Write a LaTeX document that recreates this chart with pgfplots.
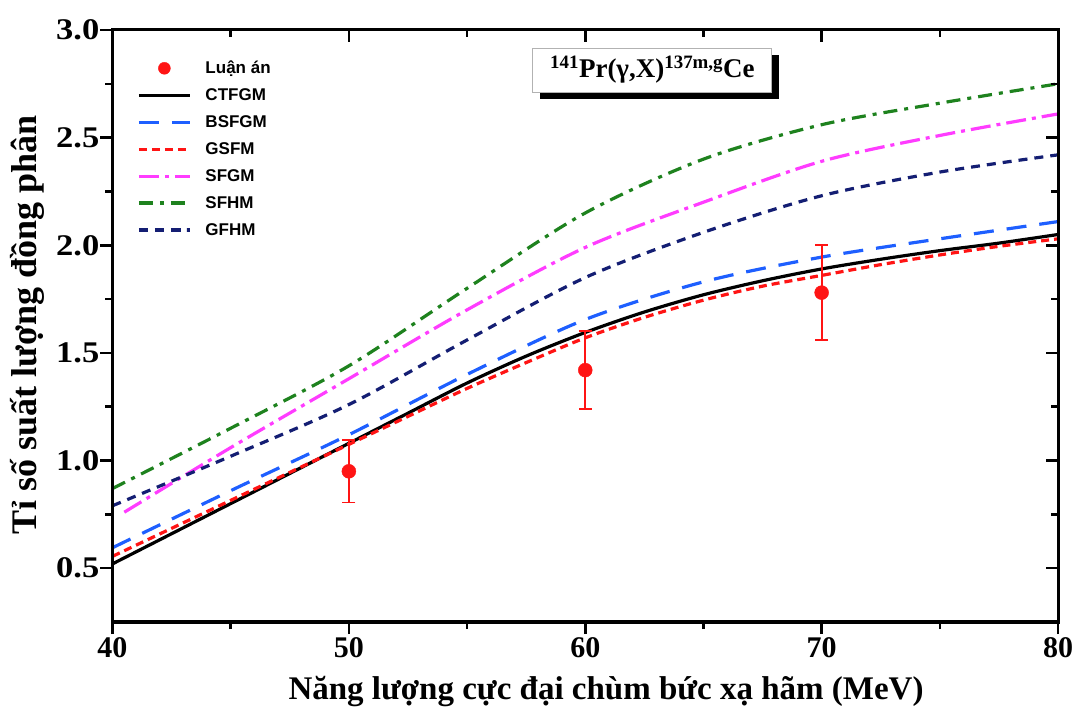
\documentclass[border=0pt]{standalone}
\usepackage{fontspec}
\setmainfont{Liberation Serif}
\newfontfamily\legfont{Liberation Sans}
\usepackage{graphicx}
\usepackage{pgfplots}
\pgfplotsset{compat=1.18}
\usetikzlibrary{shadows}
\definecolor{cblue}{RGB}{30,95,255}
\definecolor{cred}{RGB}{255,20,20}
\definecolor{cmag}{RGB}{255,60,255}
\definecolor{cgreen}{RGB}{30,130,30}
\definecolor{cnavy}{RGB}{20,30,115}
\begin{document}
\begin{tikzpicture}
\pgfplotsset{
  base/.style={
    width=945.5pt, height=592pt, scale only axis,
    xmin=40, xmax=80, ymin=0.25, ymax=3.0,
    xtick={40,50,60,70,80}, ytick={0.5,1,1.5,2,2.5,3},
    minor x tick num=1, minor y tick num=1,
    major tick length=12pt, minor tick length=7pt,
    axis line style={line width=3pt},
    every tick/.style={line width=2.5pt, black},
  }
}
\begin{axis}[base, name=ax,
  xtick pos=left, ytick pos=left, tick align=outside,
  /pgf/number format/assume math mode=true,
  yticklabel={\scalebox{1.15}[1]{\pgfmathprintnumber[fixed, fixed zerofill, precision=1]{\tick}}},
  yticklabel style={font=\fontsize{30}{30}\selectfont\bfseries, inner sep=1pt},
  xticklabel style={font=\fontsize{30}{30}\selectfont\bfseries, inner sep=3pt},
  xlabel={Năng lượng cực đại chùm bức xạ hãm (MeV)},
  ylabel={Tỉ số suất lượng đồng phân},
  xlabel style={font=\fontsize{33}{33}\selectfont\bfseries, at={(axis description cs:0.522,-0.118)}, anchor=center},
  ylabel style={font=\fontsize{36}{36}\selectfont\bfseries, at={(axis description cs:-0.0904,0.502)}, anchor=center},
  legend style={at={(rel axis cs:0.026,0.951)}, anchor=north west, draw=none, fill=none,
    font=\legfont\fontsize{17}{17}\selectfont\bfseries, row sep=9.5pt, inner sep=0pt,
    /tikz/every odd column/.append style={column sep=12pt}},
  legend cell align=left,
  legend image code/.code={\draw[mark repeat=2,mark phase=2,#1] plot coordinates {(0pt,0pt)(25.5pt,0pt)(51pt,0pt)};},
]
\addlegendimage{only marks, mark=*, cred, mark size=6pt}
\addlegendentry{Luận án}
\addplot[black, line width=3.2pt, smooth] coordinates {
(40,0.52)(42.5,0.66)(45,0.80)(47.5,0.94)(50,1.08)(52.5,1.22)(55,1.36)(57.5,1.485)(60,1.595)(62.5,1.69)(65,1.77)(67.5,1.835)(70,1.89)(72.5,1.935)(75,1.975)(77.5,2.01)(80,2.05)};
\addlegendentry{CTFGM}
\addplot[cblue, line width=3.2pt, smooth, dash pattern=on 20pt off 13pt] coordinates {
(40,0.595)(45,0.86)(50,1.12)(55,1.40)(60,1.655)(65,1.83)(70,1.945)(75,2.03)(80,2.11)};
\addlegendentry{BSFGM}
\addplot[cred, line width=3.2pt, smooth, dash pattern=on 8pt off 5pt] coordinates {
(40,0.555)(42.5,0.685)(45,0.815)(47.5,0.945)(50,1.075)(52.5,1.205)(55,1.335)(57.5,1.455)(60,1.57)(62.5,1.665)(65,1.745)(67.5,1.81)(70,1.86)(72.5,1.91)(75,1.955)(77.5,1.995)(80,2.03)};
\addlegendentry{GSFM}
\addplot[cmag, line width=3.2pt, smooth, dash pattern=on 20pt off 6pt on 4pt off 6pt] coordinates {
(40.5,0.76)(45,1.06)(50,1.38)(55,1.70)(60,1.99)(65,2.20)(70,2.39)(75,2.51)(80,2.61)};
\addlegendentry{SFGM}
\addplot[cgreen, line width=3.2pt, smooth, dash pattern=on 14pt off 7pt on 4pt off 7pt] coordinates {
(40,0.87)(45,1.15)(50,1.44)(55,1.80)(60,2.15)(65,2.40)(70,2.56)(75,2.66)(80,2.75)};
\addlegendentry{SFHM}
\addplot[cnavy, line width=3.2pt, smooth, dash pattern=on 9pt off 7pt] coordinates {
(40,0.79)(45,1.02)(50,1.26)(55,1.56)(60,1.85)(65,2.06)(70,2.23)(75,2.34)(80,2.42)};
\addlegendentry{GFHM}
\addplot[forget plot, only marks, mark=*, cred, mark size=7pt,
  error bars/.cd, y dir=both, y explicit,
  error bar style={line width=1.8pt, cred},
  error mark options={rotate=90, mark size=6.5pt, line width=1.8pt, cred}]
  coordinates {(50,0.95) +- (0,0.145) (60,1.42) +- (0,0.18) (70,1.78) +- (0,0.22)};
\node[draw=gray!60, line width=0.8pt, fill=white, minimum width=239pt, minimum height=44pt,
  general shadow={fill=black, shadow xshift=7pt, shadow yshift=-7pt},
  font=\fontsize{27}{27}\selectfont\bfseries] at (axis cs:62.84,2.814)
  {\textsuperscript{141}Pr(γ,X)\textsuperscript{137m,g}Ce};
\end{axis}
\begin{axis}[base, xtick pos=right, ytick pos=right, tick align=inside,
  xticklabels={}, yticklabels={}]
\end{axis}
\pgfresetboundingbox
\path (ax.south west) ++(-112.5pt,-89pt) rectangle ++(1075pt,711pt);
\end{tikzpicture}
\end{document}
